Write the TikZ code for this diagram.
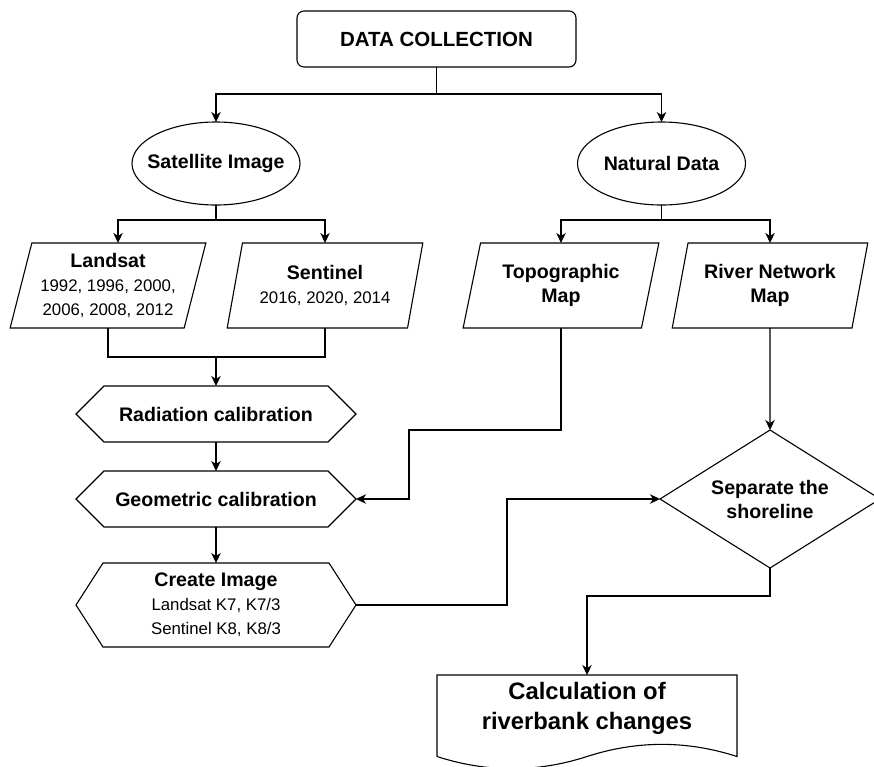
\documentclass[tikz,border=0pt]{standalone}
\usepackage{fontspec}
\setmainfont{Liberation Sans}
\usetikzlibrary{shapes.geometric,arrows.meta}
\newcommand\bfnt{\fontsize{19.6}{24}\selectfont\bfseries}
\newcommand\rgfnt{\fontsize{16.8}{24}\selectfont\mdseries}
\newcommand\hdfnt{\fontsize{20.5}{24}\selectfont\bfseries}
\newcommand\docfnt{\fontsize{23.8}{30}\selectfont\bfseries}
\begin{document}
\begin{tikzpicture}[x=1pt,y=-1pt,
  line/.style={draw=black, line width=1.1pt},
  arr/.style={line, -{Stealth[length=10pt,width=9.5pt,inset=3pt]}},
  txt/.style={font=\bfnt, align=center, inner sep=0pt, outer sep=0pt, text=black},
  startbox/.style={txt, line, rounded corners=7pt, minimum width=279pt, minimum height=56pt, font=\hdfnt},
  ellbox/.style={txt, line, ellipse, inner xsep=-10pt, minimum width=168pt, minimum height=83pt},
  parabox/.style={txt, line, trapezium, trapezium left angle=73.3, trapezium right angle=106.7, trapezium stretches=true, minimum width=196pt, minimum height=85pt},
  hexbox/.style={txt, minimum width=280pt, minimum height=56pt},
  diabox/.style={txt, minimum width=220pt, minimum height=138pt},
  docbox/.style={txt, font=\docfnt, minimum width=300pt, minimum height=66pt, anchor=north}
]
\useasboundingbox (0,0) rectangle (874,766);

% nodes
\node[startbox] (dc) at (436.5,39) {DATA COLLECTION};
\node[ellbox] (sat) at (216,163.5) {Satellite Image};
\node[ellbox] (nat) at (661.5,163.5) {Natural Data};

\node[parabox] (land) at (108,285.5) {Landsat\\ \rgfnt 1992, 1996, 2000,\\ \rgfnt 2006, 2008, 2012};
\node[parabox] (sent) at (325,285.5) {Sentinel\\ \rgfnt 2016, 2020, 2014};
\node[parabox] (topo) at (561,285.5) {Topographic\\Map};
\node[parabox] (riv) at (770,285.5) {River Network\\Map};

\node[hexbox] (rad) at (216,414) {Radiation calibration};
\node[hexbox] (geo) at (216,499) {Geometric calibration};
\node[hexbox, minimum height=84pt] (cre) at (216,605) {Create Image\\ \rgfnt Landsat K7, K7/3\\ \rgfnt Sentinel K8, K8/3};

\node[diabox] (dia) at (770,499) {Separate the\\shoreline};
\node[docbox] (doc) at (587,675) {Calculation of\\riverbank changes};

% outlines of drawn shapes
\draw[line] (rad.west) -- ([xshift=28pt]rad.north west) -- ([xshift=-28pt]rad.north east) -- (rad.east) -- ([xshift=-28pt]rad.south east) -- ([xshift=28pt]rad.south west) -- cycle;
\draw[line] (geo.west) -- ([xshift=28pt]geo.north west) -- ([xshift=-28pt]geo.north east) -- (geo.east) -- ([xshift=-28pt]geo.south east) -- ([xshift=28pt]geo.south west) -- cycle;
\draw[line] (cre.west) -- ([xshift=27pt]cre.north west) -- ([xshift=-27pt]cre.north east) -- (cre.east) -- ([xshift=-27pt]cre.south east) -- ([xshift=27pt]cre.south west) -- cycle;
\draw[line] (dia.west) -- (dia.north) -- (dia.east) -- (dia.south) -- cycle;
\draw[line] (437,756.5) -- (437,675) -- (737,675) -- (737,756.5)
  .. controls (687,740.3) and (637,740.3) .. (587,756.5)
  .. controls (537,772.7) and (487,772.7) .. (437,756.5);

% connectors
\coordinate (j1) at (436.5,94);
\draw[arr] (dc.south) -- (j1) -| (sat.north);
\draw[arr] (j1) -| (nat.north);

\coordinate (j2) at (216,220);
\draw[arr] (sat.south) -- (j2) -| ([xshift=10pt]land.north);
\draw[arr] (j2) -| (sent.north);

\coordinate (j3) at (661.5,220);
\draw[arr] (nat.south) -- (j3) -| (topo.north);
\draw[arr] (j3) -| (riv.north);

\coordinate (m1) at (216,357);
\draw[line] (land.south) |- (m1) -| (sent.south);
\draw[arr] (m1) -- (rad.north);
\draw[arr] (rad.south) -- (geo.north);
\draw[arr] (geo.south) -- (cre.north);

\coordinate (k1) at (409,430);
\draw[arr] (topo.south) |- (k1) |- (geo.east);

\coordinate (k2) at (507,605);
\draw[arr] (cre.east) -- (k2) |- (dia.west);

\draw[arr] (riv.south) -- (dia.north);

\coordinate (k3) at (587,596);
\draw[arr] (dia.south) |- (k3) -- (doc.north);
\end{tikzpicture}
\end{document}
